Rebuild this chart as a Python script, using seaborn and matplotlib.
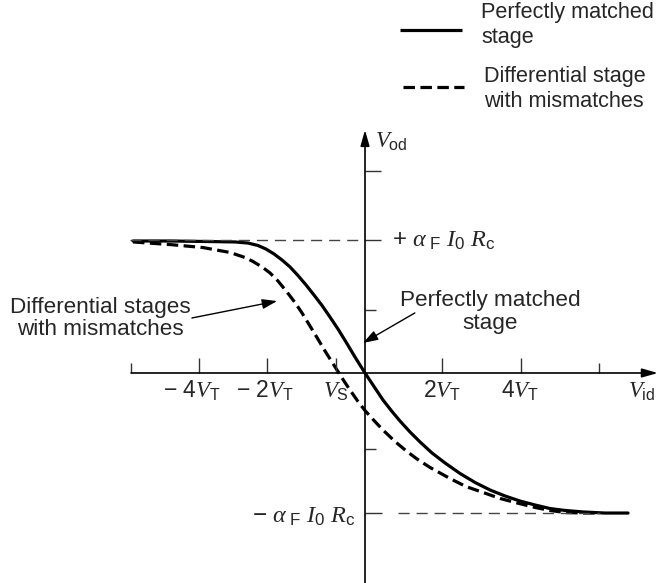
import numpy as np
import pandas as pd
import matplotlib
matplotlib.use("Agg")
import matplotlib.pyplot as plt
import seaborn as sns

# --- data: differential output voltage vs. differential input (x in units of V_T,
#     y normalised so that the saturation levels sit near +/- alpha_F I0 Rc) ---
matched_x = [-5.911, -4.968, -3.949, -3.312, -2.981, -2.726, -2.522, -2.318, -2.115,
             -1.911, -1.707, -1.503, -1.299, -1.096, -0.892, -0.688, -0.484, -0.255,
             0.0, 0.229, 0.459, 0.688, 0.892, 1.146, 1.401, 1.707, 2.038, 2.420,
             2.803, 3.185, 3.567, 3.949, 4.331, 4.713, 5.096, 5.554, 6.115, 6.701]
matched_y = [0.967, 0.967, 0.963, 0.960, 0.952, 0.934, 0.908, 0.872, 0.828,
             0.777, 0.714, 0.645, 0.571, 0.495, 0.410, 0.322, 0.227, 0.117,
             0.0, -0.099, -0.198, -0.282, -0.352, -0.432, -0.505, -0.586, -0.659,
             -0.736, -0.802, -0.857, -0.901, -0.938, -0.967, -0.993, -1.007, -1.018,
             -1.026, -1.026]

mismatch_x = [-5.911, -4.968, -4.127, -3.439, -3.057, -2.854, -2.624, -2.420, -2.217,
              -1.987, -1.783, -1.605, -1.401, -1.223, -1.019, -0.713, -0.535, -0.382,
              -0.178, 0.0, 0.229, 0.459, 0.764, 1.070, 1.325, 1.656, 2.166, 2.573,
              3.006, 3.439, 3.873, 4.331, 4.713, 5.096, 5.554, 5.911]
mismatch_y = [0.960, 0.941, 0.919, 0.883, 0.846, 0.817, 0.777, 0.733, 0.674,
              0.593, 0.516, 0.440, 0.344, 0.260, 0.161, 0.022, -0.059, -0.125,
              -0.209, -0.275, -0.348, -0.418, -0.502, -0.575, -0.630, -0.692, -0.773,
              -0.832, -0.875, -0.919, -0.952, -0.985, -1.007, -1.022, -1.026, -1.026]

level_hi = 0.974    # + alpha_F I0 Rc
level_lo = -1.026   # - alpha_F I0 Rc

x_ticks = [-5.96, -4.23, -2.50, -0.74, 1.96, 3.97, 5.96]
x_tick_labels = ["", "\u2212 4$V_{\\mathrm{T}}$", "\u2212 2$V_{\\mathrm{T}}$",
                 "$V_{\\mathrm{S}}$", "2$V_{\\mathrm{T}}$", "4$V_{\\mathrm{T}}$", ""]
y_ticks = [1.48, level_hi, 0.462, -0.557, level_lo]

curve_names = ["Perfectly matched stage", "Differential stage with mismatches"]

df = pd.concat([
    pd.DataFrame({"vid": matched_x, "vod": matched_y, "curve": curve_names[0]}),
    pd.DataFrame({"vid": mismatch_x, "vod": mismatch_y, "curve": curve_names[1]}),
], ignore_index=True)

# --- style ---
sns.set_style("white")
plt.rcParams["font.family"] = ["Liberation Sans", "DejaVu Sans"]
plt.rcParams["mathtext.fontset"] = "custom"
plt.rcParams["mathtext.rm"] = "Liberation Sans"
plt.rcParams["mathtext.it"] = "Liberation Serif:italic"
plt.rcParams["mathtext.bf"] = "Liberation Sans:bold"

fig = plt.figure(figsize=(6.61, 5.83), dpi=100)
ax = fig.add_axes([0, 0, 1, 1])
ax.set_xlim(-9.299, 7.541)
ax.set_ylim(-1.5385, 2.7326)
ax.axis("off")

LW = 2.3
DASH = (3.6, 1.7)
sns.lineplot(data=df, x="vid", y="vod", style="curve", style_order=curve_names,
             dashes={curve_names[0]: "", curve_names[1]: DASH},
             color="black", linewidth=LW, sort=False, estimator=None,
             legend=False, ax=ax)

# --- axes with arrow heads ---
arrow_kw = dict(arrowstyle="-|>,head_length=0.95,head_width=0.27", lw=1.2,
                color="black", shrinkA=0, shrinkB=0, mutation_scale=10)
ax.annotate("", xy=(7.46, 0), xytext=(-5.96, 0), arrowprops=arrow_kw)
ax.annotate("", xy=(0, 1.78), xytext=(0, -1.54), arrowprops=arrow_kw)

# tick marks on the x axis (pointing up)
for xt in x_ticks:
    h = 0.073 if xt in (x_ticks[0], x_ticks[-1]) else 0.11
    ax.plot([xt, xt], [0, h], color="#333333", lw=1.0, solid_capstyle="butt")
# tick marks on the y axis (pointing right)
y_tick_len = [0.41, 0.41, 0.28, 0.28, 0.43]
for yt, ln in zip(y_ticks, y_tick_len):
    ax.plot([0, ln], [yt, yt], color="#333333", lw=1.0, solid_capstyle="butt")

# saturation reference lines
ax.plot([-5.98, 0], [level_hi, level_hi], color="#444444", lw=1.0, dashes=(8, 5))
ax.plot([0.84, 5.99], [level_lo, level_lo], color="#444444", lw=1.0, dashes=(8, 5))

# tick labels
FS_AX = 16.5
label_x = [None, -4.42, -2.55, -0.75, 1.95, 3.94, None]
for lx, txt in zip(label_x, x_tick_labels):
    if txt:
        ax.text(lx, -0.183, txt, ha="center", va="baseline", fontsize=FS_AX)

ax.text(6.70, -0.183, "$V_{\\mathrm{id}}$", ha="left", va="baseline", fontsize=FS_AX)
ax.text(0.255, 1.648, "$V_{\\mathrm{od}}$", ha="left", va="baseline", fontsize=FS_AX)

# saturation level labels
FS_LVL = 17.5
ax.text(0.70, 0.923, "+ $\\alpha_{\\ \\mathrm{F}}\\ I_{0}\\ R_{\\mathrm{c}}$",
        ha="left", va="baseline", fontsize=FS_LVL)
ax.text(-0.255, -1.099, "\u2212 $\\alpha_{\\ \\mathrm{F}}\\ I_{0}\\ R_{\\mathrm{c}}$",
        ha="right", va="baseline", fontsize=FS_LVL)

# callouts
FS_CALL = 16.2
call_kw = dict(arrowstyle="-|>,head_length=0.9,head_width=0.3", lw=1.0,
               color="black", shrinkA=0, shrinkB=0, mutation_scale=10)
ax.text(-6.73, 0.278, "Differential stages\nwith mismatches", ha="center",
        va="baseline", fontsize=FS_CALL, linespacing=1.08)
ax.annotate("", xy=(-2.24, 0.527), xytext=(-4.41, 0.403), arrowprops=call_kw)
ax.text(3.18, 0.325, "Perfectly matched\nstage", ha="center", va="baseline",
        fontsize=FS_CALL, linespacing=1.08)
ax.annotate("", xy=(-0.05, 0.22), xytext=(1.27, 0.44), arrowprops=call_kw)

# key
FS_KEY = 15.6
ax.plot([0.89, 2.47], [2.513, 2.513], color="black", lw=LW, solid_capstyle="butt")
ax.plot([0.97, 2.52], [2.095, 2.095], color="black", lw=LW, dashes=DASH)
ax.text(2.955, 2.418, "Perfectly matched\nstage", ha="left", va="baseline",
        fontsize=FS_KEY, linespacing=1.25)
ax.text(3.03, 1.949, "Differential stage\nwith mismatches", ha="left",
        va="baseline", fontsize=FS_KEY, linespacing=1.25)

fig.savefig("out.png", dpi=100)
